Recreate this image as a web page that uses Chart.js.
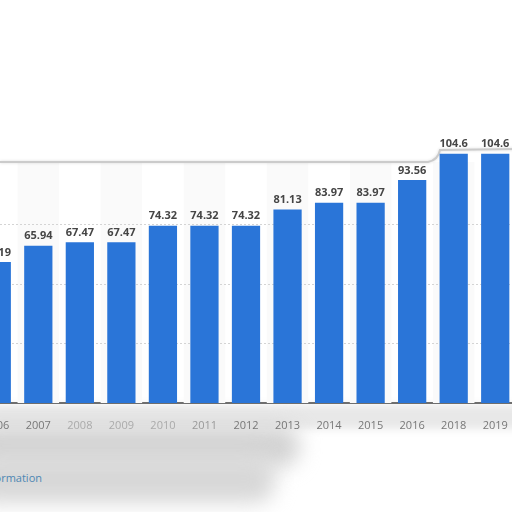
<!DOCTYPE html>
<html>
<head>
<meta charset="utf-8">
<script src="https://cdn.jsdelivr.net/npm/chart.js@4.4.1/dist/chart.umd.min.js"></script>
<style>
    html, body { margin: 0; padding: 0; background: #fff; }
    body { width: 512px; height: 512px; overflow: hidden; position: relative; }
    .smudge { position: absolute; filter: blur(10px); }
    #wrap { position: absolute; left: -24px; top: 0; width: 540px; height: 512px; }
    #info {
        position: absolute; right: 470px; top: 470px; white-space: nowrap;
        font: 11px "Open Sans", sans-serif; color: #4d87b3;
    }
</style>
</head>
<body>
<div class="smudge" style="left:-10px;top:405px;width:540px;height:24px;background:#e8e8e8;filter:blur(4px)"></div>
<div class="smudge" style="left:-30px;top:425px;width:330px;height:42px;background:#d4d4d4;border-radius:20px"></div>
<div class="smudge" style="left:-30px;top:455px;width:305px;height:48px;background:#d8d8d8;border-radius:20px"></div>
<div id="info">Additional Information</div>
<div id="wrap"><canvas id="chart"></canvas></div>
<script>
// Chart data
const years = ['2006', '2007', '2008', '2009', '2010', '2011', '2012', '2013', '2014', '2015', '2016', '2018', '2019'];
const values = [59.19, 65.94, 67.47, 67.47, 74.32, 74.32, 74.32, 81.13, 83.97, 83.97, 93.56, 104.6, 104.6];
const yTicks = [0, 25, 50, 75, 100, 125];

// Alternating column stripes, grid and the card outline
const backdropPlugin = {
    id: 'backdrop',
    beforeDatasetsDraw(chart) {
        const { ctx, chartArea, scales } = chart;
        const x = scales.x;
        const step = x.getPixelForValue(1) - x.getPixelForValue(0);
        ctx.save();
        ctx.fillStyle = '#fafafa';
        years.forEach((y, i) => {
            if (i % 2 === 1) {
                const cx = x.getPixelForValue(i);
                ctx.fillRect(cx - step / 2, 162, step, chartArea.bottom - 162);
            }
        });
        // dashed grid lines
        ctx.strokeStyle = '#d4d4d4';
        ctx.lineWidth = 1;
        ctx.setLineDash([2, 2]);
        [25, 50, 75].forEach(v => {
            const py = Math.round(scales.y.getPixelForValue(v)) + 0.5;
            ctx.beginPath();
            ctx.moveTo(chartArea.left, py);
            ctx.lineTo(chartArea.right, py);
            ctx.stroke();
        });
        ctx.setLineDash([]);
        // card outline
        ctx.strokeStyle = '#cbcbcb';
        ctx.lineWidth = 2;
        ctx.shadowColor = 'rgba(0,0,0,0.15)';
        ctx.shadowBlur = 3;
        ctx.beginPath();
        ctx.moveTo(24, 162);
        ctx.lineTo(452, 162);
        ctx.quadraticCurveTo(462, 160, 464, 150);
        ctx.lineTo(540, 149);
        ctx.stroke();
        ctx.restore();
    },
    afterDatasetsDraw(chart) {
        const { ctx } = chart;
        const meta = chart.getDatasetMeta(0);
        ctx.save();
        ctx.font = 'bold 11px "Open Sans", sans-serif';
        ctx.fillStyle = '#454545';
        ctx.textAlign = 'center';
        ctx.textBaseline = 'bottom';
        meta.data.forEach((bar, i) => {
            ctx.fillText(String(values[i]), bar.x, bar.y - 4);
        });
        ctx.restore();
    }
};

const tickColors = ['#777', '#777', '#aaa', '#aaa', '#aaa', '#999', '#777', '#777', '#777', '#777', '#777', '#777', '#777'];

new Chart(document.getElementById('chart'), {
    type: 'bar',
    data: {
        labels: years,
        datasets: [{
            data: values,
            backgroundColor: '#2a75d8',
            borderWidth: 0,
            barPercentage: 0.68,
            categoryPercentage: 1
        }]
    },
    options: {
        responsive: true,
        maintainAspectRatio: false,
        animation: false,
        layout: { padding: { top: 105, left: 0, right: 0, bottom: 0 } },
        plugins: { legend: { display: false }, tooltip: { enabled: false } },
        scales: {
            x: {
                offset: true,
                grid: { display: false },
                border: { color: '#6e6e6e', width: 2 },
                ticks: {
                    color: ctx => tickColors[ctx.index],
                    font: { family: '"Open Sans", sans-serif', size: 11 },
                    padding: 8,
                    maxRotation: 0,
                    autoSkip: false
                },
                afterFit(scale) { scale.height = 109; }
            },
            y: {
                display: false,
                min: yTicks[0],
                max: yTicks[yTicks.length - 1],
                ticks: { stepSize: 25 }
            }
        }
    },
    plugins: [backdropPlugin]
});
</script>
</body>
</html>
